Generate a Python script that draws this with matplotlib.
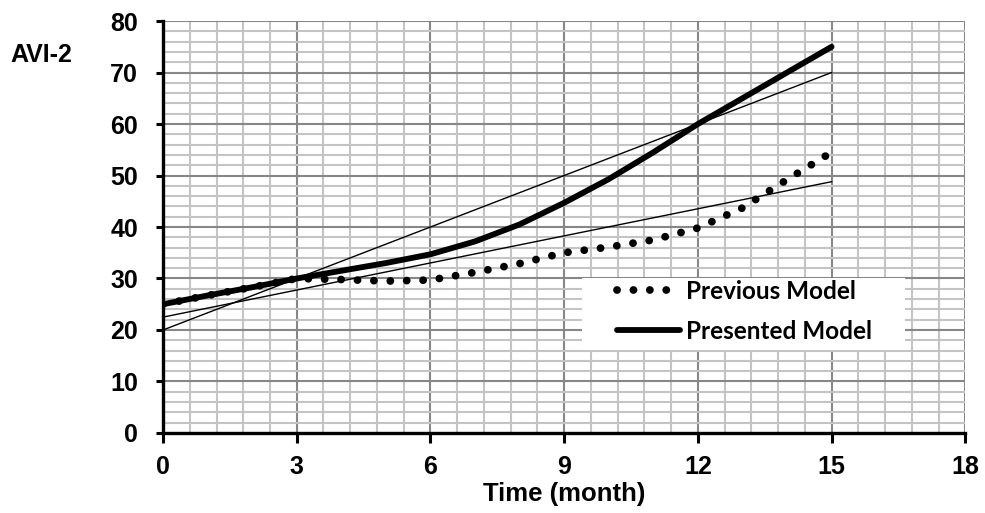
import matplotlib.pyplot as plt
import numpy as np
from matplotlib.ticker import MultipleLocator
from matplotlib.patches import Rectangle

# values
months = [0, 1, 2, 3, 4, 5, 6, 7, 8, 9, 10, 11, 12, 13, 14, 15]
previous = [25, 26.7, 28.3, 30, 29.8, 29.5, 29.7, 31.2, 32.9, 35, 36.1, 37.5, 39.8, 43.7, 49.2, 54.5]
presented = [25, 26.7, 28.3, 30, 31.5, 33, 34.7, 37.2, 40.5, 44.7, 49.3, 54.5, 60, 65, 70, 75]
trend_x = [0, 15]
trend_presented = [20, 70]
trend_previous = [22.5, 48.8]

x_ticks = [0, 3, 6, 9, 12, 15, 18]
y_ticks = [0, 10, 20, 30, 40, 50, 60, 70, 80]

fig = plt.figure(figsize=(9.85, 5.13), dpi=100)
ax = fig.add_axes([0.1655, 0.156, 0.8145, 0.803])

ax.plot(trend_x, trend_presented, color='black', lw=1.0, zorder=3)
ax.plot(trend_x, trend_previous, color='black', lw=1.0, zorder=3)
ax.plot(months, previous, color='black', lw=5.6, linestyle=(0, (0.01, 2.1)),
        dash_capstyle='round', label='Previous Model', zorder=4)
ax.plot(months, presented, color='black', lw=4.2, solid_capstyle='round',
        label='Presented Model', zorder=4)

ax.set_xlim(0, 18)
ax.set_ylim(0, 80)
ax.set_xticks(x_ticks)
ax.set_yticks(y_ticks)
ax.xaxis.set_minor_locator(MultipleLocator(0.6))
ax.yaxis.set_minor_locator(MultipleLocator(2))
ax.grid(which='minor', color='#c4c4c4', lw=1.5)
ax.grid(which='major', color='#878787', lw=1.5)
ax.set_axisbelow(True)

for s in ['top', 'right']:
    ax.spines[s].set_visible(False)
for s in ['left', 'bottom']:
    ax.spines[s].set_linewidth(2.4)
    ax.spines[s].set_zorder(5)
ax.tick_params(which='major', direction='out', width=2.2)
ax.tick_params(axis='x', length=7, pad=9)
ax.tick_params(axis='y', length=5, pad=13)
ax.tick_params(which='minor', length=0)
for lab in ax.get_xticklabels() + ax.get_yticklabels():
    lab.set_fontsize(18)
    lab.set_fontweight('bold')
    lab.set_fontfamily('Liberation Sans')

ax.set_xlabel('Time (month)', fontsize=18.5, fontweight='bold', family='Liberation Sans', labelpad=2)
fig.text(0.0102, 0.879, 'AVI-2', fontsize=18, fontweight='bold', family='Liberation Sans', va='baseline')

# white box behind the legend
ax.add_patch(Rectangle((0.5224, 0.2015), 0.4026, 0.1745, transform=ax.transAxes,
                       facecolor='white', edgecolor='none', zorder=5))
leg = ax.legend(loc='upper left', bbox_to_anchor=(0.566, 0.372), frameon=False,
                borderpad=0, borderaxespad=0,
                handlelength=2.6, handletextpad=0.25, labelspacing=0.7,
                prop={'family': 'Lato', 'weight': 'bold', 'size': 17.5})
leg.set_zorder(6)

fig.savefig('out.png', dpi=100)
